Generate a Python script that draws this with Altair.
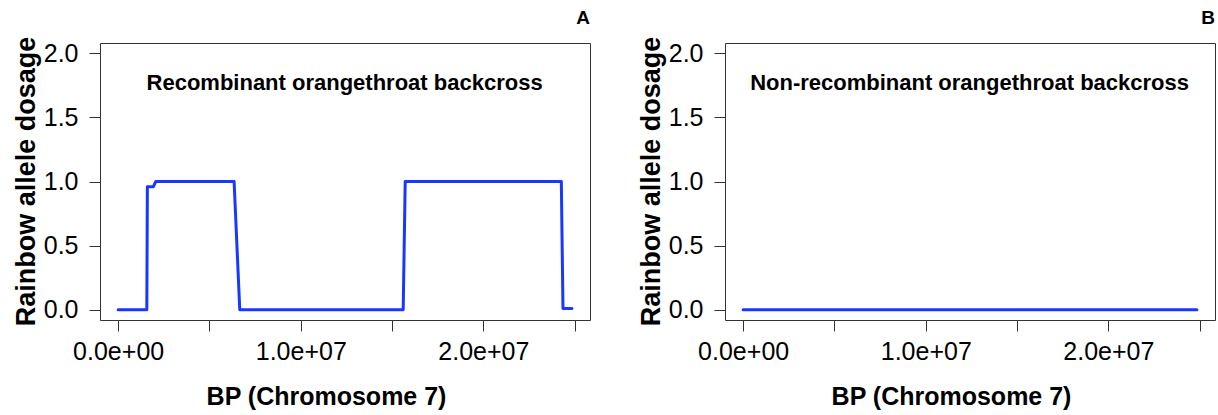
import altair as alt
import pandas as pd

# ---- data ----
a_bp = [0, 1.57e6, 1.60e6, 1.93e6, 2.06e6, 6.35e6, 6.66e6, 15.61e6, 15.72e6, 24.27e6, 24.36e6, 24.85e6]
a_dosage = [0.0, 0.0, 0.96, 0.96, 1.0, 1.0, 0.0, 0.0, 1.0, 1.0, 0.01, 0.01]

b_bp = [0, 2.91e6, 5.81e6, 10.2e6, 13.6e6, 16.0e6, 18.2e6, 20.4e6, 23.7e6, 24.85e6]
b_dosage = [0.0, 0.0, 0.0, 0.0, 0.0, 0.0, 0.0, 0.0, 0.0, 0.0]

x_ticks = [0, 5e6, 1e7, 1.5e7, 2e7, 2.5e7]
x_tick_labels = ["0.0e+00", "", "1.0e+07", "", "2.0e+07", ""]
y_ticks = [0.0, 0.5, 1.0, 1.5, 2.0]

panel_notes = ["Recombinant orangethroat backcross", "Non-recombinant orangethroat backcross"]
panel_letters = ["A", "B"]
note_x = 1.24e7
note_y = 1.77

FONT = "Liberation Sans"
X_DOMAIN = [-0.994e6, 2.584e7]
Y_DOMAIN = [-0.08, 2.08]
LINE_COLOR = "#1938ff"
W, H = 490, 277

label_expr = " : ".join(
    f"datum.value == {v} ? '{l}'" for v, l in zip(x_ticks, x_tick_labels) if l
) + " : ''"


def panel(bp, dosage, note, letter):
    df = pd.DataFrame({"bp": bp, "dosage": dosage})
    x = alt.X(
        "bp:Q",
        scale=alt.Scale(domain=X_DOMAIN, nice=False, zero=False),
        axis=alt.Axis(
            values=x_ticks, labelExpr=label_expr, title="BP (Chromosome 7)",
            grid=False, domain=False, tickSize=11, tickColor="#333", tickWidth=1,
            labelFont=FONT, labelFontSize=25, labelColor="#000",
            labelBaseline="alphabetic", labelPadding=28, labelOverlap=False, labelFlush=False,
            titleFont=FONT, titleFontSize=25, titleFontWeight="bold", titleColor="#000",
            titleX=226, titleY=84, titleBaseline="alphabetic",
        ),
    )
    y = alt.Y(
        "dosage:Q",
        scale=alt.Scale(domain=Y_DOMAIN, nice=False, zero=False),
        axis=alt.Axis(
            values=y_ticks, format=".1f", title="Rainbow allele dosage",
            grid=False, domain=False, tickSize=11, tickColor="#333", tickWidth=1,
            labelFont=FONT, labelFontSize=25, labelColor="#000", labelPadding=11,
            labelOverlap=False, labelFlush=False,
            titleFont=FONT, titleFontSize=27, titleFontWeight="bold", titleColor="#000",
            titleX=-66, titleY=138, titleBaseline="alphabetic",
        ),
    )
    line = alt.Chart(df).mark_line(
        color=LINE_COLOR, strokeWidth=3, strokeCap="round", strokeJoin="round"
    ).encode(x=x, y=y)
    note_df = pd.DataFrame({"bp": [note_x], "dosage": [note_y], "txt": [note]})
    text = alt.Chart(note_df).mark_text(
        font=FONT, fontSize=22, fontWeight="bold", color="#000", align="center", baseline="middle"
    ).encode(x=alt.X("bp:Q", scale=alt.Scale(domain=X_DOMAIN, nice=False, zero=False)),
             y=alt.Y("dosage:Q", scale=alt.Scale(domain=Y_DOMAIN, nice=False, zero=False)),
             text="txt:N")
    return alt.layer(line, text).properties(
        width=W, height=H,
        title=alt.TitleParams(
            text=letter, anchor="end", frame="group", font=FONT, fontSize=19,
            fontWeight="bold", color="#000", offset=-7, baseline="alphabetic",
        ),
    )


chart = alt.hconcat(
    panel(a_bp, a_dosage, panel_notes[0], panel_letters[0]),
    panel(b_bp, b_dosage, panel_notes[1], panel_letters[1]),
    spacing=135, bounds="flush",
).properties(
    padding={"left": 11, "top": 8, "right": 0, "bottom": 0},
    background="white",
).configure_view(stroke="#333", strokeWidth=1)

chart.save("out.html", embed_options={"renderer": "svg", "actions": False})
